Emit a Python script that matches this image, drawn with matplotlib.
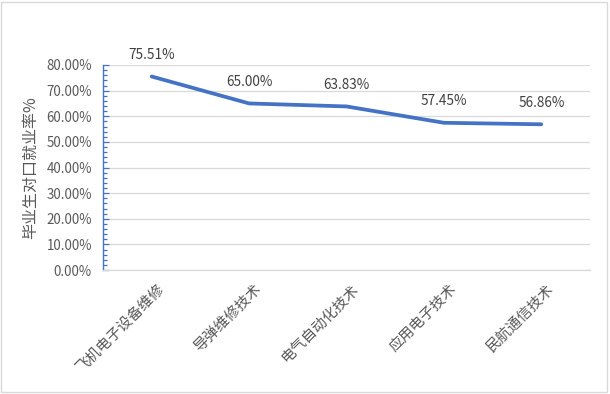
import matplotlib
matplotlib.use("Agg")
import matplotlib.pyplot as plt
from matplotlib.ticker import MultipleLocator, FuncFormatter
from matplotlib.patches import Rectangle
from matplotlib.transforms import ScaledTranslation

plt.rcParams['font.family'] = ['Noto Sans CJK SC', 'DejaVu Sans']

categories = ["飞机电子设备维修", "导弹维修技术", "电气自动化技术", "应用电子技术", "民航通信技术"]
rates = [75.51, 65.00, 63.83, 57.45, 56.86]
y_label = "毕业生对口就业率%"

W, H = 610, 394
fig = plt.figure(figsize=(W / 100, H / 100), dpi=100)
ax = fig.add_axes([103 / W, 1 - 270 / H, (590 - 103) / W, (270 - 65) / H])

x = list(range(len(categories)))
ax.plot(x, rates, color="#4472C4", linewidth=2.7, solid_capstyle="round", zorder=3)
for xi, v in zip(x, rates):
    ax.annotate(f"{v:.2f}%", (xi, v), xytext=(0, 15.5), textcoords="offset points",
                ha="center", va="center", fontsize=9.8, color="#404040")

ax.set_xlim(-0.5, len(categories) - 0.5)
ax.set_ylim(0, 80)
ax.yaxis.set_major_locator(MultipleLocator(10))
ax.yaxis.set_minor_locator(MultipleLocator(2))
ax.yaxis.set_major_formatter(FuncFormatter(lambda v, p: f"{v:.2f}%"))
ax.grid(axis="y", color="#D9D9D9", linewidth=0.9, zorder=0)
ax.set_axisbelow(True)

ax.set_xticks(x)
ax.set_xticklabels([])
ax.tick_params(axis="x", length=0)
off = ScaledTranslation(10 / 100, -17 / 100, fig.dpi_scale_trans)
for xi, cat in zip(x, categories):
    ax.text(xi, 0, cat, transform=ax.get_xaxis_transform() + off,
            rotation=45, ha="right", va="center", rotation_mode="anchor",
            fontsize=10.6, color="#595959")

ax.tick_params(axis="y", which="both", direction="in", color="#4472C4",
               labelsize=9.6, labelcolor="#595959", pad=8)
ax.tick_params(axis="y", which="major", length=4, width=0.9)
ax.tick_params(axis="y", which="minor", length=3, width=0.9)

for s in ["top", "right"]:
    ax.spines[s].set_visible(False)
ax.spines["left"].set_color("#4472C4")
ax.spines["left"].set_linewidth(1.0)
ax.spines["bottom"].set_color("#D9D9D9")
ax.spines["bottom"].set_linewidth(0.9)

ax.set_ylabel(y_label, fontsize=11.5, color="#595959", labelpad=5)

fig.patches.append(Rectangle((1 / W, 2 / H), 606 / W, 390 / H, transform=fig.transFigure,
                             fill=False, edgecolor="#D9D9D9", linewidth=1))

fig.savefig("out.png", dpi=100)
